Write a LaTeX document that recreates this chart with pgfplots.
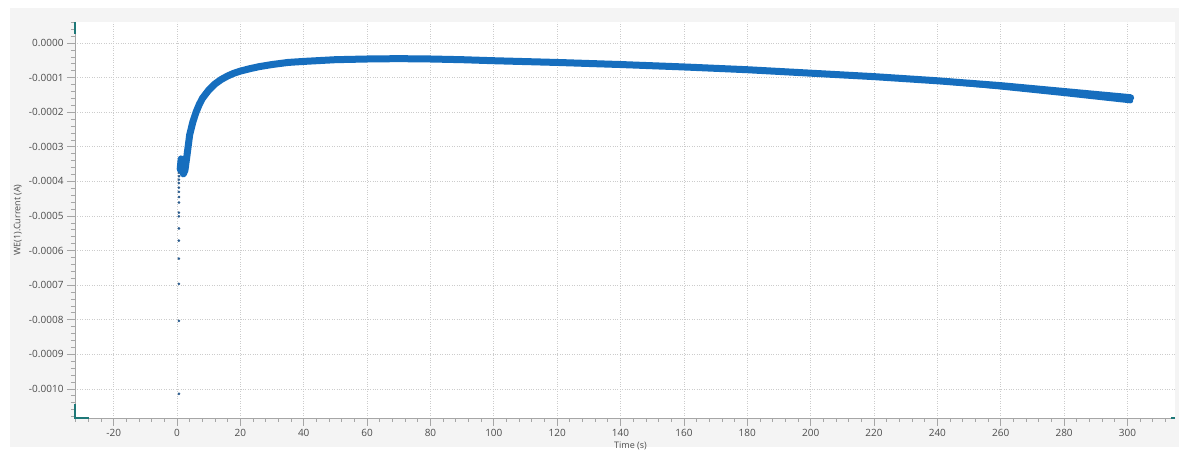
\documentclass[border=0pt]{standalone}
\usepackage{pgfplots}
\pgfplotsset{compat=1.18}
\usepackage{fontspec}
\setmainfont{Open Sans}
\usetikzlibrary{backgrounds}
\definecolor{curve}{RGB}{22,110,190}
\definecolor{dots}{RGB}{40,90,140}
\definecolor{handle}{RGB}{30,120,120}
\definecolor{panel}{RGB}{244,244,244}
\begin{document}
\begin{tikzpicture}
\begin{axis}[
    at={(0pt,0pt)}, anchor=south west,
    scale only axis, width=1100pt, height=396pt,
    xmin=-32.2, xmax=315,
    ymin=-0.001084, ymax=0.000061,
    clip mode=individual,
    axis lines*=left,
    axis line style={-, draw=gray!70, line width=0.8pt},
    axis background/.style={fill=white},
    xtick distance=20,
    ytick={-0.001,-0.0009,-0.0008,-0.0007,-0.0006,-0.0005,-0.0004,-0.0003,-0.0002,-0.0001,0},
    minor x tick num=4,
    minor ytick={-0.00108,-0.00106,...,0.00006},
    tick align=outside,
    major tick length=8pt, minor tick length=4pt,
    tick style={gray!70, line width=0.8pt},
    grid=major,
    major grid style={dotted, gray!40, line width=0.8pt},
    scaled y ticks=false,
    /pgf/number format/assume math mode=true,
    yticklabel style={/pgf/number format/.cd, fixed, fixed zerofill, precision=4},
    ticklabel style={font=\fontsize{10}{11}\selectfont, text=black!70},
    xlabel={Time (s)}, ylabel={WE(1).Current (A)},
    xlabel style={font=\fontsize{9}{10}\selectfont, text=black!70, at={(axis description cs:0.505,-0.071)}, anchor=center},
    ylabel style={font=\fontsize{9}{10}\selectfont, text=black!70, at={(axis description cs:-0.052,0.5)}, anchor=center},
]
% initial transient samples
\addplot[only marks, mark=*, mark size=1.1pt, dots] coordinates {
    (0.6,-0.001014) (0.6,-0.000803) (0.6,-0.000696) (0.6,-0.000623)
    (0.6,-0.000571) (0.6,-0.000536) (0.6,-0.000501) (0.6,-0.000490)
    (0.6,-0.000461) (0.6,-0.000445) (0.6,-0.000430) (0.6,-0.000418)
    (0.6,-0.000405) (0.6,-0.000395) (0.6,-0.000385) (0.6,-0.000375)
};
% current trace
\addplot[curve, line width=7pt, line join=round, line cap=round] coordinates {
    (1.0,-0.000365) (1.3,-0.000335) (1.6,-0.000345) (2.0,-0.000378)
    (2.5,-0.000368) (3,-0.000335) (4,-0.000265) (5,-0.000228)
    (6,-0.000200) (7,-0.000178) (8,-0.000160) (10,-0.000136)
    (12,-0.000118) (14,-0.000105) (16,-0.000095) (18,-0.000087)
    (20,-0.000081) (23,-0.000074) (26,-0.000068) (30,-0.000062)
    (35,-0.000056) (40,-0.000053) (50,-0.000048) (60,-0.000046)
    (70,-0.000045) (80,-0.000046) (90,-0.000048) (100,-0.000051)
    (120,-0.000056) (140,-0.000062) (160,-0.000069) (180,-0.000077)
    (200,-0.000087) (220,-0.000097) (240,-0.000109) (260,-0.000123)
    (280,-0.000140) (300,-0.000157) (301,-0.000158)
};
% spread of the trace near the end
\addplot[curve, line width=5pt, line cap=round] coordinates {
    (245,-0.000114) (260,-0.000127) (280,-0.000146) (300,-0.000166) (301,-0.000167)
};
% scroll handles
\draw[handle, line width=2.5pt] (rel axis cs:0,1) -- ++(0pt,-12pt);
\draw[handle, line width=2.5pt] ([yshift=14pt]rel axis cs:0,0) -- (rel axis cs:0,0) -- ++(14pt,0pt);
\draw[handle, line width=2.5pt] (rel axis cs:1,0) -- ++(-4pt,0pt);
\end{axis}
\begin{pgfonlayer}{background}
\fill[white] (-75pt,-36pt) rectangle (1104pt,418pt);
\fill[panel] (-65pt,-29pt) rectangle (1104pt,410pt);
\end{pgfonlayer}
\end{tikzpicture}
\end{document}
